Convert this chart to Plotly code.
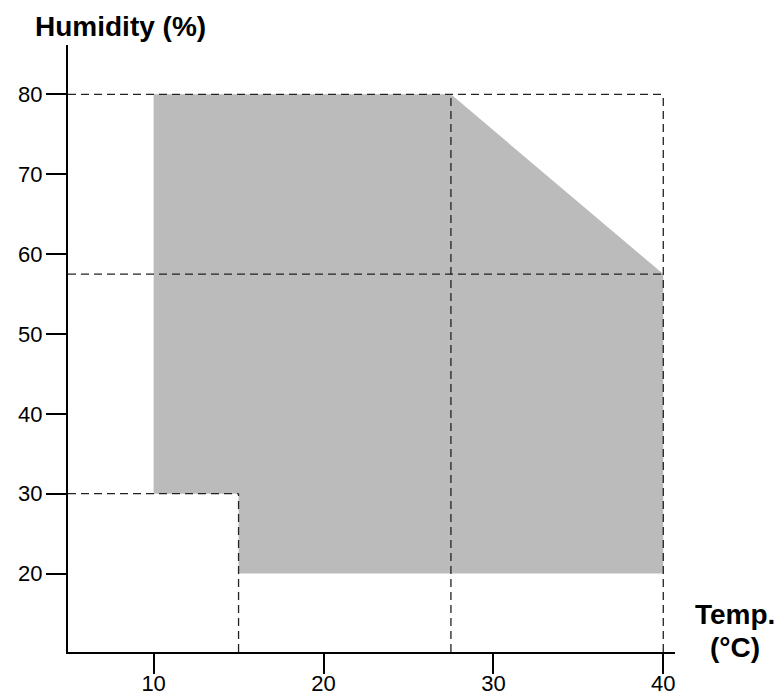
import plotly.graph_objects as go

# Operating region (temperature °C, humidity %)
region_temp = [10, 27.5, 40, 40, 15, 15, 10, 10]
region_hum = [80, 80, 57.5, 20, 20, 30, 30, 80]

x_ticks = [10, 20, 30, 40]
y_ticks = [20, 30, 40, 50, 60, 70, 80]

x_range = [4.96, 40.69]
y_range = [10.18, 86.18]

# Reference dashed lines: horizontal (humidity, temp end) and vertical (temp, humidity end)
h_lines_hum = [80, 57.5, 30]
h_lines_end = [40, 40, 15]
v_lines_temp = [15, 27.5, 40]
v_lines_end = [30, 80, 80]

fig = go.Figure()

fig.add_trace(go.Scatter(
    x=region_temp, y=region_hum, mode="lines", fill="toself",
    fillcolor="#bbbbbb", line=dict(width=0, color="#bbbbbb"),
    hoverinfo="skip", showlegend=False))

dash_style = dict(color="#222222", width=1.3, dash="8px,5px")
for h, e in zip(h_lines_hum, h_lines_end):
    fig.add_trace(go.Scatter(x=[x_range[0], e], y=[h, h], mode="lines",
                             line=dash_style, showlegend=False, hoverinfo="skip"))
for t, e in zip(v_lines_temp, v_lines_end):
    fig.add_trace(go.Scatter(x=[t, t], y=[y_range[0], e], mode="lines",
                             line=dash_style, showlegend=False, hoverinfo="skip"))

fam = "Liberation Sans, Arial, sans-serif"
font = dict(family=fam, size=22, color="black")
title_font = dict(family=fam, size=28, color="black")

axis_common = dict(showgrid=False, zeroline=False, showline=True,
                   linecolor="black", linewidth=2, ticks="outside", ticklen=20,
                   tickwidth=2, tickcolor="black", tickfont=font, automargin=False)

fig.update_layout(
    width=783, height=695,
    margin=dict(l=68, r=108, t=45, b=43),
    plot_bgcolor="white", paper_bgcolor="white",
    font=font,
    showlegend=False,
    xaxis=dict(range=x_range, tickvals=x_ticks, ticklabelstandoff=-9, **axis_common),
    yaxis=dict(range=y_range, tickvals=y_ticks, ticklabelstandoff=-1, **axis_common),
    annotations=[
        dict(text="<b>Humidity (%)</b>", xref="paper", yref="paper",
             x=0, y=1.0, xanchor="left", yanchor="middle", xshift=-35, yshift=19,
             showarrow=False, font=title_font),
        dict(text="<b>Temp.</b>", xref="paper", yref="paper",
             x=1.0, y=0.0, xanchor="center", yanchor="middle", xshift=60, yshift=38,
             showarrow=False, font=title_font),
        dict(text="<b>(°C)</b>", xref="paper", yref="paper",
             x=1.0, y=0.0, xanchor="center", yanchor="middle", xshift=60, yshift=5,
             showarrow=False, font=title_font),
    ],
)

fig.write_html("out.html", config={"displayModeBar": False},
               post_script="document.body.style.margin='0';")
